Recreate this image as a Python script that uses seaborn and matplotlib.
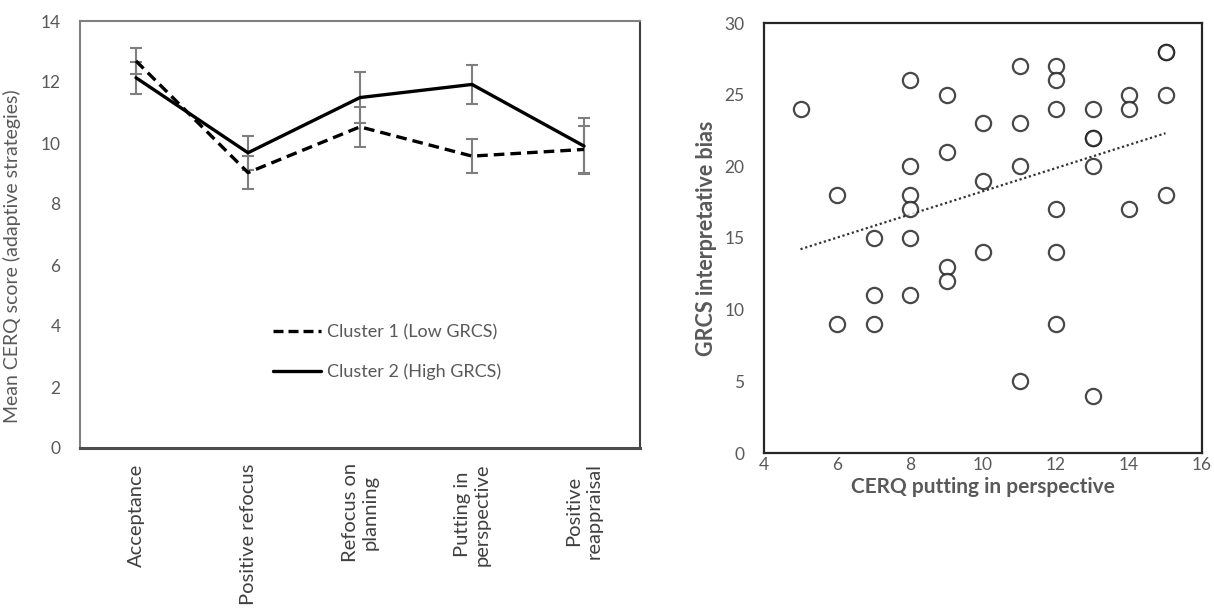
import matplotlib
matplotlib.use("Agg")
import matplotlib.pyplot as plt
import seaborn as sns
import numpy as np
import pandas as pd
from matplotlib.lines import Line2D

# ---- Data: left panel ----
categories = ["Acceptance", "Positive refocus", "Refocus on\nplanning",
              "Putting in\nperspective", "Positive\nreappraisal"]
cluster1_mean = [12.69, 9.03, 10.53, 9.57, 9.79]
cluster1_err = [0.43, 0.55, 0.65, 0.55, 0.77]
cluster2_mean = [12.14, 9.68, 11.49, 11.92, 9.90]
cluster2_err = [0.53, 0.55, 0.83, 0.63, 0.91]
series_names = ["Cluster 1 (Low GRCS)", "Cluster 2 (High GRCS)"]

# ---- Data: right panel ----
cerq_pip = [5, 6, 6, 7, 7, 7, 8, 8, 8, 8, 8, 8, 9, 9, 9, 9, 10, 10, 10,
            11, 11, 11, 11, 12, 12, 12, 12, 12, 12, 13, 13, 13, 13, 13,
            14, 14, 14, 15, 15, 15, 15]
grcs_ib = [24, 18, 9, 15, 11, 9, 26, 20, 18, 17, 15, 11, 25, 21, 13, 12, 23, 19, 14,
           27, 23, 20, 5, 27, 26, 24, 17, 14, 9, 24, 22, 22, 20, 4,
           25, 24, 17, 28, 28, 25, 18]

sns.set_theme(style="white")
plt.rcParams["font.family"] = ["Lato", "DejaVu Sans"]

TICK_COL = "#595959"
fig = plt.figure(figsize=(12.14, 6.15), dpi=100)
ax1 = fig.add_axes([80 / 1214, 1 - 448 / 615, 560 / 1214, 427 / 615])
ax2 = fig.add_axes([764 / 1214, 1 - 453 / 615, 438 / 1214, 430 / 615])

# ---- Left panel ----
xpos = np.arange(len(categories))
df = pd.DataFrame({
    "x": np.tile(xpos, 2),
    "mean": cluster1_mean + cluster2_mean,
    "err": cluster1_err + cluster2_err,
    "cluster": [series_names[0]] * 5 + [series_names[1]] * 5,
})
for mean, err in [(cluster1_mean, cluster1_err), (cluster2_mean, cluster2_err)]:
    ax1.errorbar(xpos, mean, yerr=err, fmt="none", ecolor="#7f7f7f",
                 elinewidth=1.5, capsize=4, capthick=1.5, zorder=2)
sns.lineplot(data=df, x="x", y="mean", style="cluster", ax=ax1,
             color="black", linewidth=2.4,
             dashes={series_names[0]: (3.2, 1.8), series_names[1]: ""},
             legend=False, zorder=3)
ax1.set_xlim(-0.5, len(categories) - 0.5)
ax1.set_ylim(0, 14)
ax1.set_yticks(np.arange(0, 15, 2))
ax1.set_xticks(xpos)
ax1.set_xticklabels(categories, rotation=90, ha="center", va="top",
                    multialignment="center", fontsize=14.5, color="#404040")
ax1.tick_params(axis="y", labelsize=12.5, colors=TICK_COL, length=0, pad=14)
ax1.tick_params(axis="x", length=0, pad=11)
ax1.set_xlabel("")
ax1.set_ylabel("Mean CERQ score (adaptive strategies)", fontsize=14,
               color=TICK_COL, labelpad=7)
ax1.yaxis.set_label_coords(-0.105, 0.45)
for s in ["left", "top"]:
    ax1.spines[s].set_color("#808080")
    ax1.spines[s].set_linewidth(1.5)
ax1.spines["right"].set_color("#404040")
ax1.spines["right"].set_linewidth(1.5)
ax1.spines["bottom"].set_color("#4d4d4d")
ax1.spines["bottom"].set_linewidth(2.2)

handles = [Line2D([0], [0], color="black", lw=2.4, dashes=(3.0, 1.5)),
           Line2D([0], [0], color="black", lw=2.4)]
ax1.legend(handles, series_names, loc="upper left",
           bbox_to_anchor=((266 - 80) / 560, (448 - 317) / 427),
           frameon=False, fontsize=13, labelcolor=TICK_COL,
           handlelength=2.65, handletextpad=0.35, labelspacing=1.28,
           borderaxespad=0)

# ---- Right panel ----
sns.regplot(x=cerq_pip, y=grcs_ib, ax=ax2, ci=None, truncate=True,
            scatter_kws=dict(s=120, facecolors="white", edgecolors="#1a1a1a",
                             linewidths=1.6, zorder=3),
            line_kws=dict(color="#333333", linestyle=(0, (1, 1.2)), linewidth=1.6,
                          zorder=2))
ax2.set_xlim(4, 16)
ax2.set_ylim(0, 30)
ax2.set_xticks(np.arange(4, 17, 2))
ax2.set_yticks(np.arange(0, 31, 5))
ax2.tick_params(labelsize=12.5, colors=TICK_COL, length=0)
ax2.tick_params(axis="y", pad=14)
ax2.tick_params(axis="x", pad=3)
ax2.set_xlabel("CERQ putting in perspective", fontsize=15, fontweight="bold",
               color=TICK_COL, labelpad=3)
ax2.set_ylabel("GRCS interpretative bias", fontsize=15.5, fontweight="bold",
               color=TICK_COL, labelpad=5)
for s in ax2.spines.values():
    s.set_visible(True)
    s.set_color("#262626")
    s.set_linewidth(1.6)

fig.savefig("out.png", dpi=100)
